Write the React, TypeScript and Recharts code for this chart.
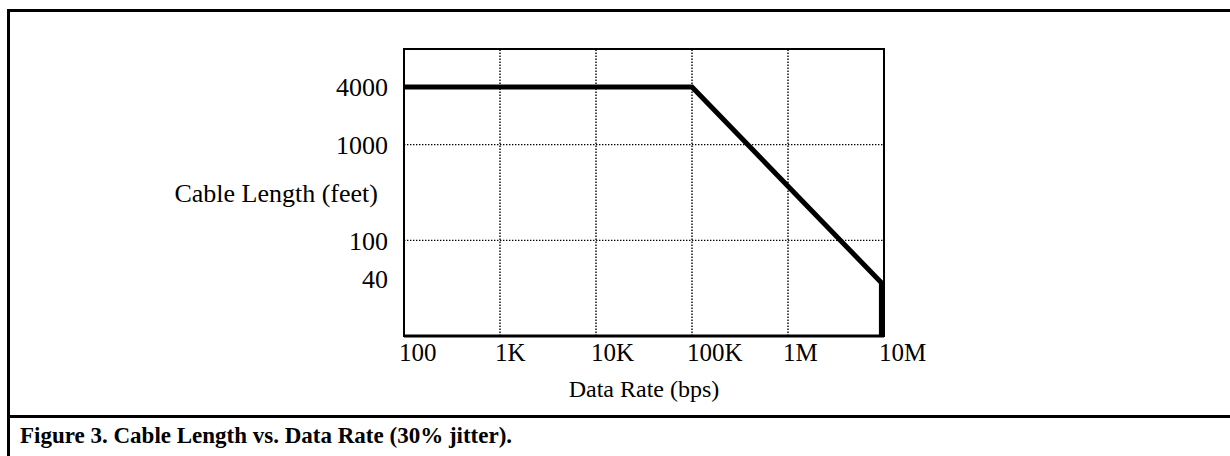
import React from 'react';
import { LineChart, Line, XAxis, YAxis, ReferenceLine, ReferenceArea, Label } from 'recharts';

const dataRate = [100, 100000, 9400000, 9400000];
const cableLength = [4000, 4000, 36, 10];

const xTicks = [100, 1000, 10000, 100000, 1000000, 10000000];
const xTickLabels = ['100', '1K', '10K', '100K', '1M', '10M'];
const yTicks = [40, 100, 1000, 4000];
const yTickLabels = ['40', '100', '1000', '4000'];
const xGridValues = [1000, 10000, 100000, 1000000];
const yGridValues = [100, 1000];

const xTitle = 'Data Rate (bps)';
const yTitle = 'Cable Length (feet)';
const caption = 'Figure 3. Cable Length vs. Data Rate (30% jitter).';

const data = dataRate.map((r, i) => ({ rate: r, length: cableLength[i] }));

const FONT = "'Liberation Serif', 'Times New Roman', Times, serif";

const XTick = (props: any) => {
  const { x, y, payload } = props;
  const idx = xTicks.indexOf(payload.value);
  return (
    <text x={x - 5} y={y + 25} textAnchor="start" fontSize={25} fontFamily={FONT} fill="#000">
      {idx >= 0 ? xTickLabels[idx] : payload.value}
    </text>
  );
};

const yFormat = (v: number) => {
  const idx = yTicks.indexOf(v);
  return idx >= 0 ? yTickLabels[idx] : String(v);
};

export default function App() {
  return (
    <div style={{ position: 'fixed', left: 0, top: 0, width: 1230, height: 456, overflow: 'hidden', background: '#fff' }}>
      <div style={{ position: 'absolute', left: 7, top: 9, width: 1240, height: 3, background: '#000' }} />
      <div style={{ position: 'absolute', left: 7, top: 9, width: 3, height: 460, background: '#000' }} />
      <div style={{ position: 'absolute', left: 7, top: 415, width: 1240, height: 3, background: '#000' }} />
      <div style={{ position: 'absolute', left: 0, top: 0 }}>
        <LineChart
          width={1230}
          height={456}
          data={data}
          margin={{ top: 49, right: 346, bottom: 59, left: 378 }}
        >
          <XAxis
            dataKey="rate"
            type="number"
            scale="log"
            domain={[100, 10000000]}
            allowDataOverflow
            ticks={xTicks}
            interval={0}
            tick={<XTick />}
            tickLine={false}
            tickSize={0}
            tickMargin={0}
            height={61}
            axisLine={{ stroke: '#000', strokeWidth: 3 }}
          >
            <Label value={xTitle} position="insideBottom" offset={0} fontSize={24} fontFamily={FONT} fill="#000" />
          </XAxis>
          <YAxis
            dataKey="length"
            type="number"
            scale="log"
            domain={[10, 10000]}
            allowDataOverflow
            ticks={yTicks}
            interval={0}
            tickFormatter={yFormat}
            tick={{ fontSize: 26, fontFamily: FONT, fill: '#000' }}
            tickLine={false}
            tickSize={0}
            tickMargin={16}
            width={26}
            axisLine={{ stroke: '#000', strokeWidth: 2 }}
          >
            <Label value={yTitle} position="left" offset={0} fontSize={26} fontFamily={FONT} fill="#000" />
          </YAxis>
          {xGridValues.map((v) => (
            <ReferenceLine key={'x' + v} x={v} stroke="#000" strokeWidth={1.4} strokeDasharray="1.4 1.6" />
          ))}
          {yGridValues.map((v) => (
            <ReferenceLine key={'y' + v} y={v} stroke="#000" strokeWidth={1.4} strokeDasharray="1.4 1.6" />
          ))}
          <ReferenceArea
            x1={100}
            x2={10000000}
            y1={10}
            y2={10000}
            fill="none"
            stroke="#000"
            strokeWidth={2}
            ifOverflow="visible"
          />
          <Line
            type="linear"
            dataKey="length"
            stroke="#000"
            strokeWidth={5}
            dot={false}
            activeDot={false}
            strokeLinejoin="miter"
            strokeLinecap="butt"
            isAnimationActive={false}
          />
        </LineChart>
      </div>
      <div
        style={{
          position: 'absolute',
          left: 20,
          top: 424,
          fontFamily: FONT,
          fontWeight: 'bold',
          fontSize: 23,
          lineHeight: '23px',
          whiteSpace: 'nowrap',
          color: '#000',
        }}
      >
        {caption}
      </div>
    </div>
  );
}
